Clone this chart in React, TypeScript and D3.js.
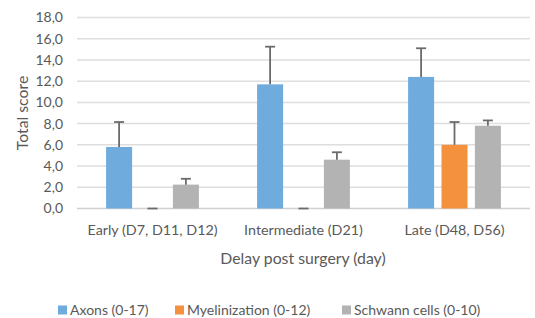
import React from 'react';
import * as d3 from 'd3';

const categories = ['Early (D7, D11, D12)', 'Intermediate (D21)', 'Late (D48, D56)'];
const seriesNames = ['Axons (0-17)', 'Myelinization (0-12)', 'Schwann cells (0-10)'];
const axons = [5.8, 11.7, 12.4];
const axonsErr = [2.35, 3.55, 2.7];
const myelin = [0, 0, 6.0];
const myelinErr = [0, 0, 2.15];
const schwann = [2.25, 4.6, 7.8];
const schwannErr = [0.55, 0.7, 0.5];
const yTicks = [0, 2, 4, 6, 8, 10, 12, 14, 16, 18];

const colors = ['#6fabdd', '#f3913f', '#b3b3b3'];
const font = "Lato, 'Open Sans', sans-serif";
const textColor = '#595959';

export default function App() {
  const width = 535;
  const height = 318;
  const left = 77;
  const right = 530;
  const top = 17.5;
  const bottom = 208.5;

  const values = [axons, myelin, schwann];
  const errors = [axonsErr, myelinErr, schwannErr];

  const x = d3.scaleBand<string>().domain(categories).range([left, right]).paddingInner(0).paddingOuter(0);
  const y = d3.scaleLinear().domain([0, 18]).range([bottom, top]);

  const barW = 26;
  const barStep = 33.4;
  const capW = 10;

  const legendX = [58, 175, 342];

  return (
    <svg width={width} height={height} style={{ position: 'absolute', left: 0, top: 0 }}>
      <rect width={width} height={height} fill="#fff" />
      {yTicks.map((t) => (
        <g key={t}>
          <line x1={left} x2={right} y1={y(t)} y2={y(t)} stroke={t === 0 ? '#d0d0d0' : '#dedede'} strokeWidth={1.5} />
          <text x={63} y={y(t)} dy="0.35em" textAnchor="end" fontFamily={font} fontSize={14} fill={textColor}>
            {t.toFixed(1).replace('.', ',')}
          </text>
        </g>
      ))}
      {categories.map((c, i) => {
        const cx = (x(c) as number) + x.bandwidth() / 2;
        return (
          <g key={c}>
            {values.map((vals, s) => {
              const bx = cx + (s - 1) * barStep - barW / 2;
              const v = vals[i];
              const e = errors[s][i];
              const ex = bx + barW / 2;
              return (
                <g key={s}>
                  {v > 0 && <rect x={bx} y={y(v)} width={barW} height={y(0) - y(v)} fill={colors[s]} />}
                  <line x1={ex} x2={ex} y1={y(v)} y2={y(v + e)} stroke="#6b6b6b" strokeWidth={1.8} />
                  <line x1={ex - capW / 2} x2={ex + capW / 2} y1={y(v + e)} y2={y(v + e)} stroke="#6b6b6b" strokeWidth={1.8} />
                </g>
              );
            })}
            <text x={cx} y={230} dy="0.35em" textAnchor="middle" fontFamily={font} fontSize={14.3} fill={textColor}>
              {c}
            </text>
          </g>
        );
      })}
      <text x={303} y={258} dy="0.35em" textAnchor="middle" fontFamily={font} fontSize={15.8} fill={textColor}>
        Delay post surgery (day)
      </text>
      <text transform={`translate(22,${(top + bottom) / 2}) rotate(-90)`} textAnchor="middle" dy="0.35em" fontFamily={font} fontSize={15.8} fill={textColor}>
        Total score
      </text>
      {seriesNames.map((n, s) => (
        <g key={n}>
          <rect x={legendX[s]} y={305.5} width={9} height={9} fill={colors[s]} />
          <text x={legendX[s] + 12} y={310} dy="0.35em" fontFamily={font} fontSize={14} fill={textColor}>
            {n}
          </text>
        </g>
      ))}
    </svg>
  );
}
